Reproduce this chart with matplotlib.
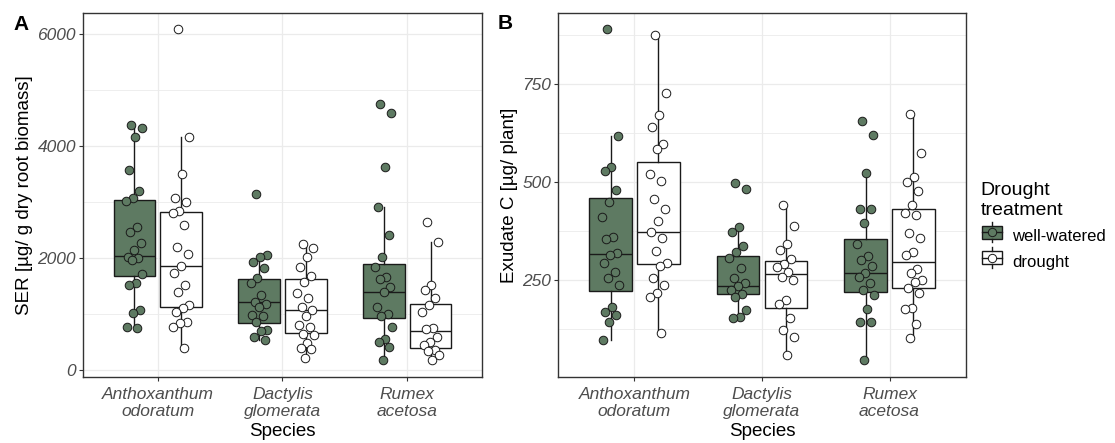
import numpy as np
import matplotlib
matplotlib.use("Agg")
import matplotlib.pyplot as plt
from matplotlib.patches import Rectangle
from matplotlib.lines import Line2D
from matplotlib.legend_handler import HandlerBase

plt.rcParams["font.family"] = ["Liberation Sans", "DejaVu Sans"]

species = ["Anthoxanthum\nodoratum", "Dactylis\nglomerata", "Rumex\nacetosa"]
treatments = ["well-watered", "drought"]

# box statistics: (q1, median, q3, whisker low, whisker high)
ser_boxes = {
    "well-watered": [(1679, 2036, 3036, 750, 4375),
                     (839, 1214, 1625, 536, 2054),
                     (929, 1393, 1893, 179, 2911)],
    "drought": [(1125, 1857, 2821, 393, 4161),
                (661, 1071, 1625, 214, 2250),
                (393, 696, 1179, 179, 2286)],
}
exu_boxes = {
    "well-watered": [(222, 316, 459, 97, 617),
                     (214, 235, 311, 153, 385),
                     (219, 268, 355, 46, 523)],
    "drought": [(291, 372, 551, 115, 875),
                (179, 265, 298, 59, 441),
                (230, 296, 431, 102, 673)],
}

# individual plants
ser_antho_ww = [4375, 4321, 4161, 3571, 3196, 3071, 3018, 2554, 2464, 2268, 2143,
                2018, 2000, 1964, 1714, 1554, 1518, 1071, 1018, 768, 750]
ser_antho_d = [6089, 4161, 3500, 3071, 3000, 2839, 2804, 2589, 2196, 2071, 1857,
               1732, 1518, 1393, 1161, 1107, 1036, 857, 839, 768, 393]
ser_dact_ww = [3143, 2054, 2018, 1929, 1821, 1643, 1554, 1339, 1214, 1180, 1125,
               982, 967, 857, 714, 696, 589, 536]
ser_dact_d = [2250, 2179, 2018, 1839, 1679, 1571, 1375, 1286, 1125, 1071, 964,
              804, 768, 643, 625, 482, 393, 375, 214]
ser_rum_ww = [4750, 4589, 3625, 2911, 2411, 2018, 1839, 1661, 1625, 1482, 1393,
              1125, 1000, 964, 768, 554, 500, 411, 179]
ser_rum_d = [2643, 2286, 1518, 1429, 1286, 1161, 1036, 750, 732, 589, 500, 446,
             357, 339, 268, 179]

exu_antho_ww = [890, 617, 538, 528, 480, 449, 411, 360, 355, 319, 314, 293, 270,
                255, 237, 181, 168, 161, 143, 97]
exu_antho_d = [875, 727, 671, 640, 597, 584, 520, 503, 457, 431, 400, 372, 357,
               324, 293, 287, 255, 237, 217, 207, 115]
exu_dact_ww = [497, 482, 385, 372, 337, 321, 306, 281, 255, 242, 235, 224, 215,
               207, 173, 156, 153]
exu_dact_d = [441, 388, 342, 327, 303, 292, 283, 270, 258, 250, 199, 190, 153,
              122, 105, 59]
exu_rum_ww = [656, 620, 523, 431, 431, 396, 342, 311, 301, 286, 268, 258, 242,
              224, 212, 176, 143, 143, 46]
exu_rum_d = [673, 574, 513, 500, 477, 441, 421, 415, 370, 357, 321, 314, 278,
             268, 250, 245, 230, 217, 179, 176, 138, 102]

ser_points = {"well-watered": [ser_antho_ww, ser_dact_ww, ser_rum_ww],
              "drought": [ser_antho_d, ser_dact_d, ser_rum_d]}
exu_points = {"well-watered": [exu_antho_ww, exu_dact_ww, exu_rum_ww],
              "drought": [exu_antho_d, exu_dact_d, exu_rum_d]}

GREEN = "#5e7a62"
FILL = {"well-watered": GREEN, "drought": "white"}
OFFSET = {"well-watered": -0.1875, "drought": 0.1875}
BOXW = 0.335
GRID = "#ebebeb"
TICKC = "#4d4d4d"
TICKFS = 12.5
TITLEFS = 13.5


def jitter(n, amp=0.07):
    # deterministic spread (golden-ratio sequence) instead of random jitter
    k = np.arange(n)
    return ((k * 0.618034 + 0.31) % 1.0 - 0.5) * 2 * amp


def panel(ax, boxes, points, ylim, major, minor, ylabel):
    for t in treatments:
        stats = []
        for q1, med, q3, lo, hi in boxes[t]:
            stats.append(dict(q1=q1, med=med, q3=q3, whislo=lo, whishi=hi,
                              fliers=[], label=""))
        pos = [i + 1 + OFFSET[t] for i in range(3)]
        ax.bxp(stats, positions=pos, widths=BOXW, patch_artist=True,
               showcaps=False, showfliers=False,
               boxprops=dict(facecolor=FILL[t], edgecolor="#1a1a1a", lw=1.0),
               medianprops=dict(color="#1a1a1a", lw=1.0),
               whiskerprops=dict(color="#1a1a1a", lw=1.0), zorder=2)
        for i, vals in enumerate(points[t]):
            xs = i + 1 + OFFSET[t] + jitter(len(vals))
            ax.scatter(xs, vals, s=38, facecolor=FILL[t], edgecolor="#1a1a1a",
                       linewidths=0.7, zorder=3)

    ax.set_xlim(0.4, 3.6)
    ax.set_ylim(*ylim)
    ax.set_yticks(major)
    ax.set_yticks(minor, minor=True)
    ax.set_xticks([1, 2, 3])
    ax.set_xticklabels(species, fontstyle="italic", color=TICKC,
                       fontsize=TICKFS, linespacing=1.15)
    for lab in ax.get_yticklabels():
        lab.set_fontstyle("italic")
        lab.set_color(TICKC)
        lab.set_fontsize(TICKFS)
    ax.grid(True, which="major", color=GRID, lw=0.9)
    ax.grid(True, which="minor", axis="y", color=GRID, lw=0.6)
    ax.set_axisbelow(True)
    ax.tick_params(which="major", length=3, color="#333333", width=0.8, pad=2)
    ax.tick_params(axis="x", which="major", pad=4)
    ax.tick_params(which="minor", length=0)
    for s in ax.spines.values():
        s.set_color("#333333")
        s.set_linewidth(1.0)
    ax.set_xlabel("Species", fontsize=TITLEFS, labelpad=3)
    ax.set_ylabel(ylabel, fontsize=TITLEFS, labelpad=3)


class BoxHandler(HandlerBase):
    def create_artists(self, legend, orig_handle, xd, yd, width, height,
                       fontsize, trans):
        fc = orig_handle.get_facecolor()
        cx = xd + width / 2
        w = width * 0.9
        h = height * 0.85
        y0 = yd + (height - h) / 2
        rect = Rectangle((cx - w / 2, y0), w, h, facecolor=fc,
                         edgecolor="#1a1a1a", lw=1.0, transform=trans)
        med = Line2D([cx - w / 2, cx + w / 2], [y0 + h / 2] * 2,
                     color="#1a1a1a", lw=1.0, transform=trans)
        wt = Line2D([cx, cx], [y0 + h, y0 + h + height * 0.25],
                    color="#1a1a1a", lw=1.0, transform=trans)
        wb = Line2D([cx, cx], [y0, y0 - height * 0.25],
                    color="#1a1a1a", lw=1.0, transform=trans)
        dot = Line2D([cx], [y0 + h / 2], marker="o", ms=6.0,
                     markerfacecolor=fc, markeredgecolor="#1a1a1a",
                     markeredgewidth=0.7, transform=trans)
        return [rect, med, wt, wb, dot]


fig = plt.figure(figsize=(11.15, 4.43), dpi=100)
axA = fig.add_axes([0.0744, 0.149, 0.3579, 0.8217])
axB = fig.add_axes([0.5004, 0.149, 0.3660, 0.8217])

panel(axA, ser_boxes, ser_points, (-125, 6375), [0, 2000, 4000, 6000],
      [1000, 3000, 5000], "SER [µg/ g dry root biomass]")
panel(axB, exu_boxes, exu_points, (3, 931), [250, 500, 750],
      [125, 375, 625, 875], "Exudate C [µg/ plant]")

fig.text(0.0125, 0.945, "A", fontsize=15, fontweight="bold", va="center")
fig.text(0.446, 0.948, "B", fontsize=15, fontweight="bold", va="center")

handles = [Rectangle((0, 0), 1, 1, facecolor=FILL[t]) for t in treatments]
leg = fig.legend(handles, treatments, title="Drought\ntreatment",
                 loc="upper left", bbox_to_anchor=(0.866, 0.622),
                 frameon=False, fontsize=12, title_fontsize=14,
                 handler_map={Rectangle: BoxHandler()},
                 handlelength=1.35, handleheight=1.0, handletextpad=0.55,
                 labelspacing=0.55)
leg._legend_box.align = "left"

fig.savefig("out.png", dpi=100)
